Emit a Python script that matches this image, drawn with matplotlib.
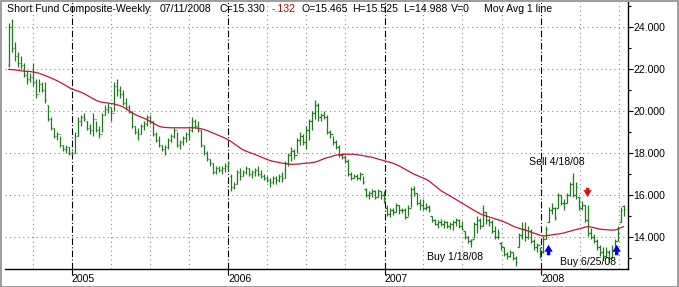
import matplotlib
matplotlib.use('Agg')
import matplotlib.pyplot as plt
import matplotlib.dates as mdates
from matplotlib.patches import Rectangle
import numpy as np
import pandas as pd

plt.rcParams['font.family'] = ['Liberation Sans', 'DejaVu Sans']

# weekly bars, Fridays from 2004-08-06 to 2008-07-11
first_week = '2004-08-06'
opens = [22.2, 24.0, 23.0, 22.6, 22.3, 22.2, 21.7, 21.5, 21.6, 21.4,
         20.8, 21.3, 21.0, 20.3, 19.6, 19.2, 18.8, 18.9, 18.4, 18.2,
         18.3, 18.0, 18.0, 18.8, 19.5, 19.7, 19.5, 19.2, 19.1, 19.6,
         19.1, 18.9, 19.8, 20.1, 20.2, 19.9, 21.2, 21.0, 20.8, 20.4,
         20.2, 20.0, 19.3, 19.0, 18.9, 19.3, 19.4, 19.7, 19.5, 18.9,
         18.6, 18.4, 18.2, 18.3, 18.6, 18.8, 19.1, 18.4, 18.5, 18.7,
         18.9, 19.1, 19.5, 19.3, 19.1, 18.4, 18.0, 17.7, 17.5, 17.1,
         17.3, 17.2, 17.3, 17.4, 16.9, 16.4, 16.5, 17.1, 16.9, 17.1,
         17.3, 17.0, 17.1, 17.2, 17.0, 16.9, 16.8, 16.7, 16.6, 16.8,
         16.7, 16.9, 16.8, 17.5, 17.9, 18.1, 17.9, 18.6, 18.8, 18.5,
         19.1, 19.5, 19.9, 20.3, 19.7, 19.8, 19.7, 19.0, 18.9, 18.5,
         18.3, 17.9, 17.8, 17.6, 17.0, 16.8, 16.9, 16.8, 17.0, 16.3,
         16.0, 16.1, 16.2, 15.9, 16.2, 16.0, 15.4, 15.1, 15.3, 15.2,
         15.5, 15.3, 15.3, 14.95, 15.4, 16.3, 16.1, 15.6, 15.5, 15.4,
         15.45, 15.0, 14.8, 14.6, 14.7, 14.6, 14.7, 14.5, 14.6, 14.7,
         14.8, 14.5, 14.3, 14.0, 13.8, 13.9, 14.6, 14.8, 14.5, 15.2,
         14.8, 14.7, 14.3, 14.0, 13.7, 13.5, 13.2, 13.1, 13.3, 13.0,
         13.5, 14.1, 14.4, 14.0, 14.3, 13.8, 13.5, 13.6, 13.3, 13.9,
         14.7, 15.3, 15.4, 15.4, 16.0, 15.6, 15.6, 16.0, 16.5, 16.0,
         15.9, 15.4, 15.5, 14.8, 14.2, 14.0, 13.8, 13.5, 13.3, 13.1,
         13.3, 13.0, 13.4, 13.8, 14.7, 15.465]
highs = [24.2, 24.4, 23.3, 22.8, 22.6, 22.3, 21.9, 21.8, 22.3, 21.5,
         21.5, 21.4, 21.4, 20.3, 19.7, 19.2, 19.0, 18.8, 18.4, 18.4,
         18.3, 18.1, 19.0, 19.7, 19.8, 19.9, 19.5, 19.4, 19.9, 19.5,
         19.3, 19.9, 20.3, 20.4, 20.2, 21.4, 21.5, 21.2, 21.0, 20.6,
         20.3, 20.0, 19.3, 19.2, 19.4, 19.5, 19.8, 19.8, 19.5, 19.0,
         18.8, 18.4, 18.4, 18.7, 18.9, 19.2, 19.0, 18.6, 18.8, 19.0,
         19.2, 19.7, 19.6, 19.5, 19.1, 18.4, 18.1, 17.7, 17.5, 17.4,
         17.4, 17.4, 17.5, 17.6, 17.0, 16.6, 17.2, 17.3, 17.2, 17.4,
         17.3, 17.2, 17.3, 17.4, 17.2, 17.0, 16.9, 16.8, 16.9, 16.9,
         17.0, 17.1, 17.6, 18.0, 18.3, 18.2, 18.7, 19.0, 18.9, 19.3,
         19.6, 20.0, 20.5, 20.4, 19.9, 20.0, 19.8, 19.1, 18.8, 18.6,
         18.4, 18.0, 17.9, 17.7, 17.1, 17.0, 17.0, 17.1, 16.9, 16.35,
         16.2, 16.3, 16.25, 16.3, 16.2, 16.2, 15.5, 15.4, 15.4, 15.6,
         15.5, 15.4, 15.4, 15.5, 16.4, 16.45, 16.1, 15.8, 15.8, 15.6,
         15.5, 15.0, 14.85, 14.8, 14.85, 14.8, 14.75, 14.7, 14.8, 14.9,
         14.85, 14.75, 14.3, 14.05, 13.9, 14.7, 15.0, 14.9, 15.5, 15.2,
         14.9, 14.8, 14.5, 14.4, 13.75, 13.5, 13.3, 13.4, 13.3, 13.1,
         14.2, 14.7, 14.7, 14.5, 14.4, 13.9, 13.7, 13.5, 14.05, 14.5,
         15.45, 15.6, 15.45, 16.1, 16.0, 15.8, 16.1, 16.6, 17.05, 16.6,
         15.9, 15.7, 15.5, 15.5, 14.45, 14.15, 13.9, 13.6, 13.5, 13.5,
         13.4, 13.6, 13.9, 14.5, 15.45, 15.525]
lows = [22.1, 22.8, 22.4, 22.1, 22.0, 21.6, 21.3, 21.4, 21.2, 20.6,
        20.9, 20.9, 20.4, 19.5, 19.1, 18.7, 18.6, 18.3, 18.1, 18.0,
        17.9, 17.9, 18.0, 18.8, 19.3, 19.5, 19.1, 18.9, 18.8, 19.0,
        18.7, 19.0, 19.8, 19.9, 19.5, 20.0, 20.7, 20.6, 20.3, 20.1,
        19.9, 19.2, 18.9, 18.6, 18.9, 19.1, 19.3, 19.4, 18.8, 18.5,
        18.3, 18.1, 17.9, 18.2, 18.5, 18.7, 18.3, 18.2, 18.4, 18.5,
        18.6, 19.0, 19.2, 19.0, 18.3, 17.9, 17.6, 17.4, 17.0, 17.0,
        17.1, 17.0, 17.1, 17.2, 16.2, 16.3, 16.5, 16.7, 16.9, 17.0,
        16.9, 16.8, 16.9, 16.9, 16.8, 16.7, 16.6, 16.4, 16.5, 16.5,
        16.6, 16.6, 16.8, 17.4, 17.6, 17.7, 18.0, 18.4, 18.4, 18.2,
        18.6, 19.1, 19.6, 19.5, 19.5, 19.6, 18.9, 18.7, 18.4, 18.2,
        17.8, 17.7, 17.5, 16.9, 16.7, 16.8, 16.7, 16.7, 16.5, 15.9,
        15.8, 15.9, 15.8, 15.9, 15.8, 15.6, 15.0, 14.95, 15.05, 15.2,
        15.1, 15.15, 14.85, 15.0, 15.45, 15.95, 15.5, 15.3, 15.3, 15.3,
        15.2, 14.7, 14.55, 14.45, 14.5, 14.45, 14.45, 14.4, 14.35, 14.5,
        14.45, 14.35, 13.9, 13.7, 13.5, 13.95, 14.2, 14.4, 14.5, 14.6,
        14.5, 14.2, 13.9, 13.9, 13.4, 13.1, 12.95, 13.05, 12.9, 12.6,
        13.5, 13.9, 13.8, 13.9, 13.7, 13.4, 13.3, 13.0, 13.25, 13.9,
        14.7, 15.1, 14.8, 15.4, 15.5, 15.3, 15.6, 15.95, 15.9, 15.8,
        15.3, 15.3, 14.7, 14.05, 13.9, 13.7, 13.4, 13.1, 12.9, 13.0,
        12.8, 13.0, 13.3, 13.8, 14.7, 14.988]
closes = [24.0, 23.0, 22.6, 22.3, 22.2, 21.7, 21.5, 21.6, 21.4, 20.8,
          21.3, 21.0, 20.5, 19.6, 19.2, 18.8, 18.9, 18.4, 18.2, 18.3,
          18.0, 18.0, 18.8, 19.5, 19.7, 19.6, 19.2, 19.1, 19.6, 19.1,
          18.9, 19.8, 20.1, 20.2, 19.9, 21.2, 21.0, 20.8, 20.4, 20.2,
          20.0, 19.3, 19.0, 18.9, 19.3, 19.4, 19.7, 19.5, 18.9, 18.6,
          18.4, 18.2, 18.3, 18.6, 18.8, 19.1, 18.4, 18.5, 18.7, 18.9,
          19.1, 19.5, 19.3, 19.1, 18.4, 18.0, 17.7, 17.5, 17.1, 17.3,
          17.2, 17.3, 17.4, 17.5, 16.4, 16.5, 17.1, 16.9, 17.1, 17.3,
          17.0, 17.1, 17.2, 17.0, 16.9, 16.8, 16.7, 16.6, 16.8, 16.7,
          16.9, 16.8, 17.5, 17.9, 18.1, 17.9, 18.6, 18.8, 18.5, 19.1,
          19.5, 19.9, 20.3, 19.7, 19.8, 19.7, 19.0, 18.9, 18.5, 18.3,
          17.9, 17.8, 17.6, 17.0, 16.8, 16.9, 16.8, 17.0, 16.6, 16.0,
          16.1, 16.2, 15.9, 16.2, 16.0, 15.7, 15.1, 15.3, 15.2, 15.5,
          15.3, 15.3, 14.95, 15.4, 16.3, 16.1, 15.6, 15.5, 15.4, 15.45,
          15.3, 14.8, 14.6, 14.7, 14.6, 14.7, 14.5, 14.6, 14.7, 14.8,
          14.5, 14.4, 14.0, 13.8, 13.85, 14.6, 14.8, 14.5, 15.2, 14.8,
          14.7, 14.3, 14.0, 14.2, 13.5, 13.2, 13.1, 13.3, 13.0, 12.8,
          14.1, 14.4, 14.0, 14.3, 13.8, 13.5, 13.6, 13.1, 13.9, 14.4,
          15.3, 15.4, 14.9, 16.0, 15.6, 15.6, 16.0, 16.5, 16.0, 16.4,
          15.4, 15.5, 14.8, 14.2, 14.0, 13.8, 13.5, 13.3, 13.1, 13.35,
          13.0, 13.4, 13.8, 14.2, 15.3, 15.33]
mov_avg = [21.98, 21.97, 21.96, 21.94, 21.92, 21.90, 21.89, 21.88, 21.86, 21.84,
           21.80, 21.75, 21.70, 21.64, 21.58, 21.52, 21.45, 21.38, 21.30, 21.22,
           21.13, 21.05, 21.00, 20.95, 20.90, 20.84, 20.76, 20.68, 20.60, 20.52,
           20.46, 20.42, 20.40, 20.38, 20.36, 20.34, 20.30, 20.26, 20.20, 20.12,
           20.02, 19.92, 19.85, 19.78, 19.72, 19.66, 19.60, 19.52, 19.44, 19.36,
           19.28, 19.24, 19.22, 19.21, 19.20, 19.20, 19.20, 19.20, 19.20, 19.20,
           19.20, 19.20, 19.20, 19.18, 19.16, 19.12, 19.08, 19.02, 18.96, 18.90,
           18.84, 18.78, 18.72, 18.64, 18.56, 18.46, 18.36, 18.26, 18.16, 18.10,
           18.04, 17.99, 17.94, 17.88, 17.82, 17.76, 17.70, 17.65, 17.61, 17.58,
           17.55, 17.52, 17.50, 17.48, 17.46, 17.46, 17.47, 17.48, 17.50, 17.51,
           17.52, 17.54, 17.56, 17.60, 17.66, 17.72, 17.77, 17.80, 17.85, 17.89,
           17.92, 17.93, 17.94, 17.94, 17.94, 17.94, 17.92, 17.90, 17.88, 17.85,
           17.82, 17.80, 17.76, 17.72, 17.68, 17.64, 17.60, 17.56, 17.52, 17.46,
           17.40, 17.32, 17.24, 17.16, 17.08, 17.00, 16.94, 16.88, 16.82, 16.76,
           16.68, 16.57, 16.45, 16.34, 16.22, 16.13, 16.05, 15.97, 15.88, 15.80,
           15.71, 15.62, 15.54, 15.45, 15.37, 15.28, 15.20, 15.12, 15.06, 15.01,
           14.96, 14.92, 14.87, 14.83, 14.78, 14.73, 14.67, 14.60, 14.53, 14.47,
           14.42, 14.38, 14.34, 14.29, 14.24, 14.19, 14.14, 14.09, 14.05, 14.06,
           14.08, 14.10, 14.12, 14.14, 14.16, 14.19, 14.23, 14.27, 14.31, 14.35,
           14.38, 14.42, 14.46, 14.49, 14.48, 14.45, 14.41, 14.38, 14.36, 14.35,
           14.34, 14.33, 14.33, 14.37, 14.44, 14.49]

signal_dates = ['2008-01-18', '2008-04-18', '2008-06-25']
signal_kinds = ['buy', 'sell', 'buy']
signal_levels = [13.38, 16.12, 13.38]
year_labels = ['2005', '2006', '2007', '2008']

W, H = 679, 287
fig = plt.figure(figsize=(W / 100, H / 100), dpi=100)
ax = fig.add_axes([5 / W, 18 / H, 623 / W, 267 / H])

dates = pd.date_range(first_week, periods=len(closes), freq='W-FRI')
xd = mdates.date2num(dates)
tick = 2.5  # days

green = '#1f7a1f'
ax.vlines(xd, lows, highs, color=green, lw=0.9, zorder=3)
ax.hlines(opens, xd - tick, xd, color=green, lw=0.9, zorder=3)
ax.hlines(closes, xd, xd + tick, color=green, lw=0.9, zorder=3)
ax.plot(xd, mov_avg, color='#cc1035', lw=0.9, zorder=4)

# grid
for v in range(14, 25, 2):
    ax.axhline(v, color='#8a8a8a', lw=0.8, ls=(0, (1, 3)), zorder=1)
for yr in range(2004, 2009):
    for m in (4, 7, 10):
        ax.axvline(mdates.date2num(pd.Timestamp(yr, m, 1)), color='#8a8a8a',
                   lw=0.8, ls=(0, (1, 3)), zorder=1)
year_x = [mdates.date2num(pd.Timestamp(int(y), 1, 1)) for y in year_labels]
for x in year_x:
    ax.axvline(x, color='black', lw=0.8, ls=(0, (6, 2, 1, 2)), zorder=2)

# buy / sell arrows
astyle = 'simple,head_width=0.6,head_length=0.5,tail_width=0.25'
for d, k, lv in zip(signal_dates, signal_kinds, signal_levels):
    x = mdates.date2num(pd.Timestamp(d))
    if k == 'buy':
        tip, tail, col = lv + 0.25, lv - 0.25, '#0000e0'
    else:
        tip, tail, col = lv - 0.22, lv + 0.22, '#e01010'
    ax.annotate('', xy=(x, tip), xytext=(x, tail),
                arrowprops=dict(arrowstyle=astyle, color=col, lw=0,
                                shrinkA=0, shrinkB=0), zorder=5)

fs = 7.6
ax.text(mdates.date2num(pd.Timestamp('2007-06-14')), 13.05, 'Buy 1/18/08',
        fontsize=fs, ha='center', va='center', zorder=6)
ax.text(mdates.date2num(pd.Timestamp('2008-02-06')), 17.57, 'Sell 4/18/08',
        fontsize=fs, ha='center', va='center', zorder=6)
ax.text(mdates.date2num(pd.Timestamp('2008-04-19')), 12.81, 'Buy 6/25/08',
        fontsize=fs, ha='center', va='center', zorder=6)

# axes
x_left = mdates.date2num(pd.Timestamp('2005-01-01')) - 67 * 7 / 3
x_right = mdates.date2num(pd.Timestamp('2005-01-01')) + 556 * 7 / 3
ax.set_xlim(x_left, x_right)
ax.set_ylim(12.476, 25.19)

ax.spines['left'].set_visible(False)
ax.spines['top'].set_visible(False)
ax.spines['right'].set_linewidth(1.0)
ax.spines['bottom'].set_linewidth(1.0)

ax.yaxis.tick_right()
ax.set_yticks(range(14, 25, 2))
ax.set_yticks(range(13, 26, 2), minor=True)
ax.set_yticklabels(['%.3f' % v for v in range(14, 25, 2)], fontsize=fs)
ax.tick_params(axis='y', which='major', length=3.5, width=0.8, pad=0.5)
ax.tick_params(axis='y', which='minor', length=2.5, width=0.8)

ax.set_xticks(year_x)
ax.set_xticklabels(year_labels, fontsize=fs, ha='left')
ax.tick_params(axis='x', which='major', length=4.5, width=0.8, pad=-1)
ax.tick_params(axis='x', which='minor', length=0)

# header line
header = [(7, 'Short Fund Composite-Weekly', 'black'),
          (160, '07/11/2008', 'black'),
          (220, 'C=15.330', 'black'),
          (272, '-.132', '#cc0000'),
          (302, 'O=15.465', 'black'),
          (352, 'H=15.525', 'black'),
          (403, 'L=14.988', 'black'),
          (451, 'V=0', 'black'),
          (484, 'Mov Avg 1 line', 'black')]
for px, s, c in header:
    fig.text(px / W, 1 - 9.5 / H, s, fontsize=fs, color=c, ha='left', va='center')

fig.patches.append(Rectangle((0.5 / W, 0.5 / H), 1 - 1.5 / W, 1 - 1.5 / H,
                             transform=fig.transFigure, fill=False,
                             edgecolor='#8c8c8c', lw=1.2))

plt.savefig('out.png', dpi=100)
